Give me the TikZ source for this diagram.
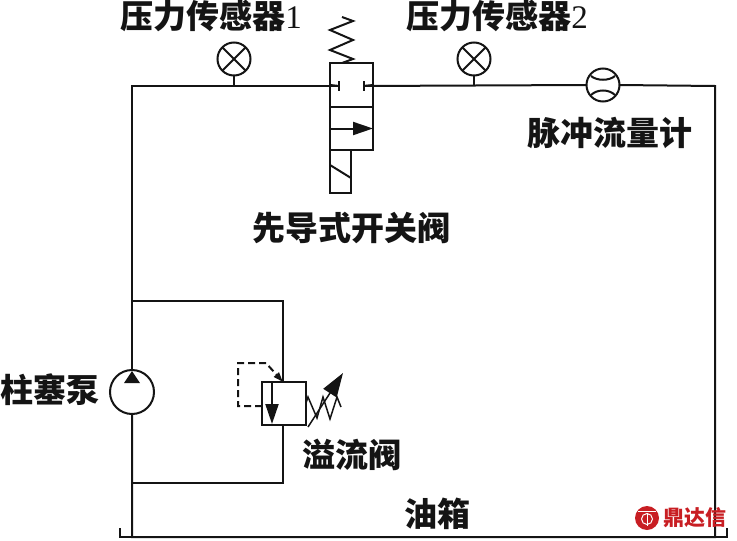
\documentclass[tikz,border=0pt]{standalone}
\usepackage{fontspec}
\usepackage{tikz}
\usetikzlibrary{arrows.meta}
\newfontfamily\cjk{Noto Sans CJK SC}
\newfontfamily\digitfont{Liberation Serif}
\definecolor{logored}{RGB}{200,30,35}

\begin{document}
\begin{tikzpicture}[x=1pt, y=-1pt, line width=2pt, color=black!92,
    label/.style={inner sep=0pt, font=\fontsize{33}{33}\selectfont\cjk\bfseries},
    gauge/.style={circle, draw, minimum size=33pt, inner sep=0pt, outer sep=0pt, fill=white},
    box/.style={rectangle, draw, inner sep=0pt, outer sep=0pt},
    tip/.style={-{Triangle[length=#1pt, width=#1pt*.65]}}]
    \useasboundingbox (0,0) rectangle (737,541);
    % corners of the loop
    \coordinate (tl) at (132,86);
    \coordinate (tr) at (715,86);
    \coordinate (br) at (715,537);
    \coordinate (bl) at (132,537);
    \coordinate (portl) at (339,86);
    \coordinate (portr) at (364,86);
    \coordinate (jup) at (132,301);
    \coordinate (jdown) at (132,483);
    % components
    \node[gauge, minimum size=44pt] (pump) at (132,392) {};
    \node[box, minimum width=44pt, minimum height=43pt] (relief) at (284,403.5) {};
    \node[box, minimum width=43pt, minimum height=44pt] (valvetop) at (351.5,85) {};
    \node[box, minimum width=43pt, minimum height=43pt] (valvelow) at (351.5,128.5) {};
    \node[box, minimum width=21pt, minimum height=43pt] (coil) at (340.5,171.5) {};
    \node[gauge] (sensora) at (234,59) {};
    \node[gauge] (sensorb) at (474,59) {};
    \node[gauge] (meter) at (603,85) {};
    \coordinate (reliefin) at (283,382);
    \coordinate (reliefout) at (283,425);
    % pipes
    \draw (pump.north) -- (tl) -- (portl);
    \draw (portr) -- (meter.west);
    \draw (meter.east) -- (tr) -- (br) -- (bl) -- (pump.south);
    \draw (jup) -| (reliefin);
    \draw (jdown) -| (reliefout);
    \draw (sensora.south) -- (sensora |- tl);
    \draw (sensorb.south) -- (sensorb |- tl);
    % tank
    \draw (120,528) -- (120,537) -- (bl);
    \draw (br) -- (727,537) -- (727,528);
    % sensors and meter
    \draw (sensora.north west) -- (sensora.south east) (sensora.north east) -- (sensora.south west);
    \draw (sensorb.north west) -- (sensorb.south east) (sensorb.north east) -- (sensorb.south west);
    \draw (591,76) .. controls (597,81) and (609,81) .. (615,76);
    \draw (591,95) .. controls (597,89) and (609,89) .. (615,95);
    % pump
    \fill (132,371) -- (140,383) -- (124,383) -- cycle;
    % valve
    \draw (portl |- 0,81) -- (portl |- 0,91);
    \draw (portr |- 0,81) -- (portr |- 0,91);
    \draw (valvetop.west) -- (portl);
    \draw (portr) -- (valvetop.east);
    \draw[tip=20] (valvelow.west) -- (valvelow.east);
    \draw (coil.west |- 0,165) -- (coil.east |- 0,178);
    \draw (342,63) -- (353,59) -- (330,50) -- (353,40) -- (330,30) -- (353,21) -- (342,17);
    % relief valve
    \draw[tip=20] (272,382) -- (272,424);
    \draw[dashed, dash pattern=on 7pt off 4pt, tip=10] (relief.west |- 0,406) -- (238,406) -- (238,363) -- (266,363) -- (reliefin);
    \draw[line width=1.5pt] (306,403) -- (308,397) -- (317,418) -- (323,397) -- (330,419) -- (337,397) -- (341,407);
    \draw[line width=1.5pt, tip=24] (308,427) -- (343,373);
    % labels
    \node[label] (lsensora) at (211,16) {压力传感器{\digitfont\mdseries 1}};
    \node[label] (lsensorb) at (497,16) {压力传感器{\digitfont\mdseries 2}};
    \node[label] (lmeter) at (610,133) {脉冲流量计};
    \node[label] (lvalve) at (351,228) {先导式开关阀};
    \node[label] (lpump) at (50,390) {柱塞泵};
    \node[label] (lrelief) at (352,455) {溢流阀};
    \node[label] (ltank) at (437,514) {油箱};
    % logo
    \fill[logored] (647,518) circle (12);
    \node[circle, minimum size=11pt, inner sep=0pt, draw=white, line width=1pt] (logoeye) at (647,519) {};
    \draw[white, line width=1pt] (638,511) -- (656,511) (647,513) -- (647,526);
    \node[inner sep=0pt, text=logored, font=\fontsize{21}{21}\selectfont\cjk\bfseries] (logo) at (695,518) {鼎达信};
\end{tikzpicture}
\end{document}
